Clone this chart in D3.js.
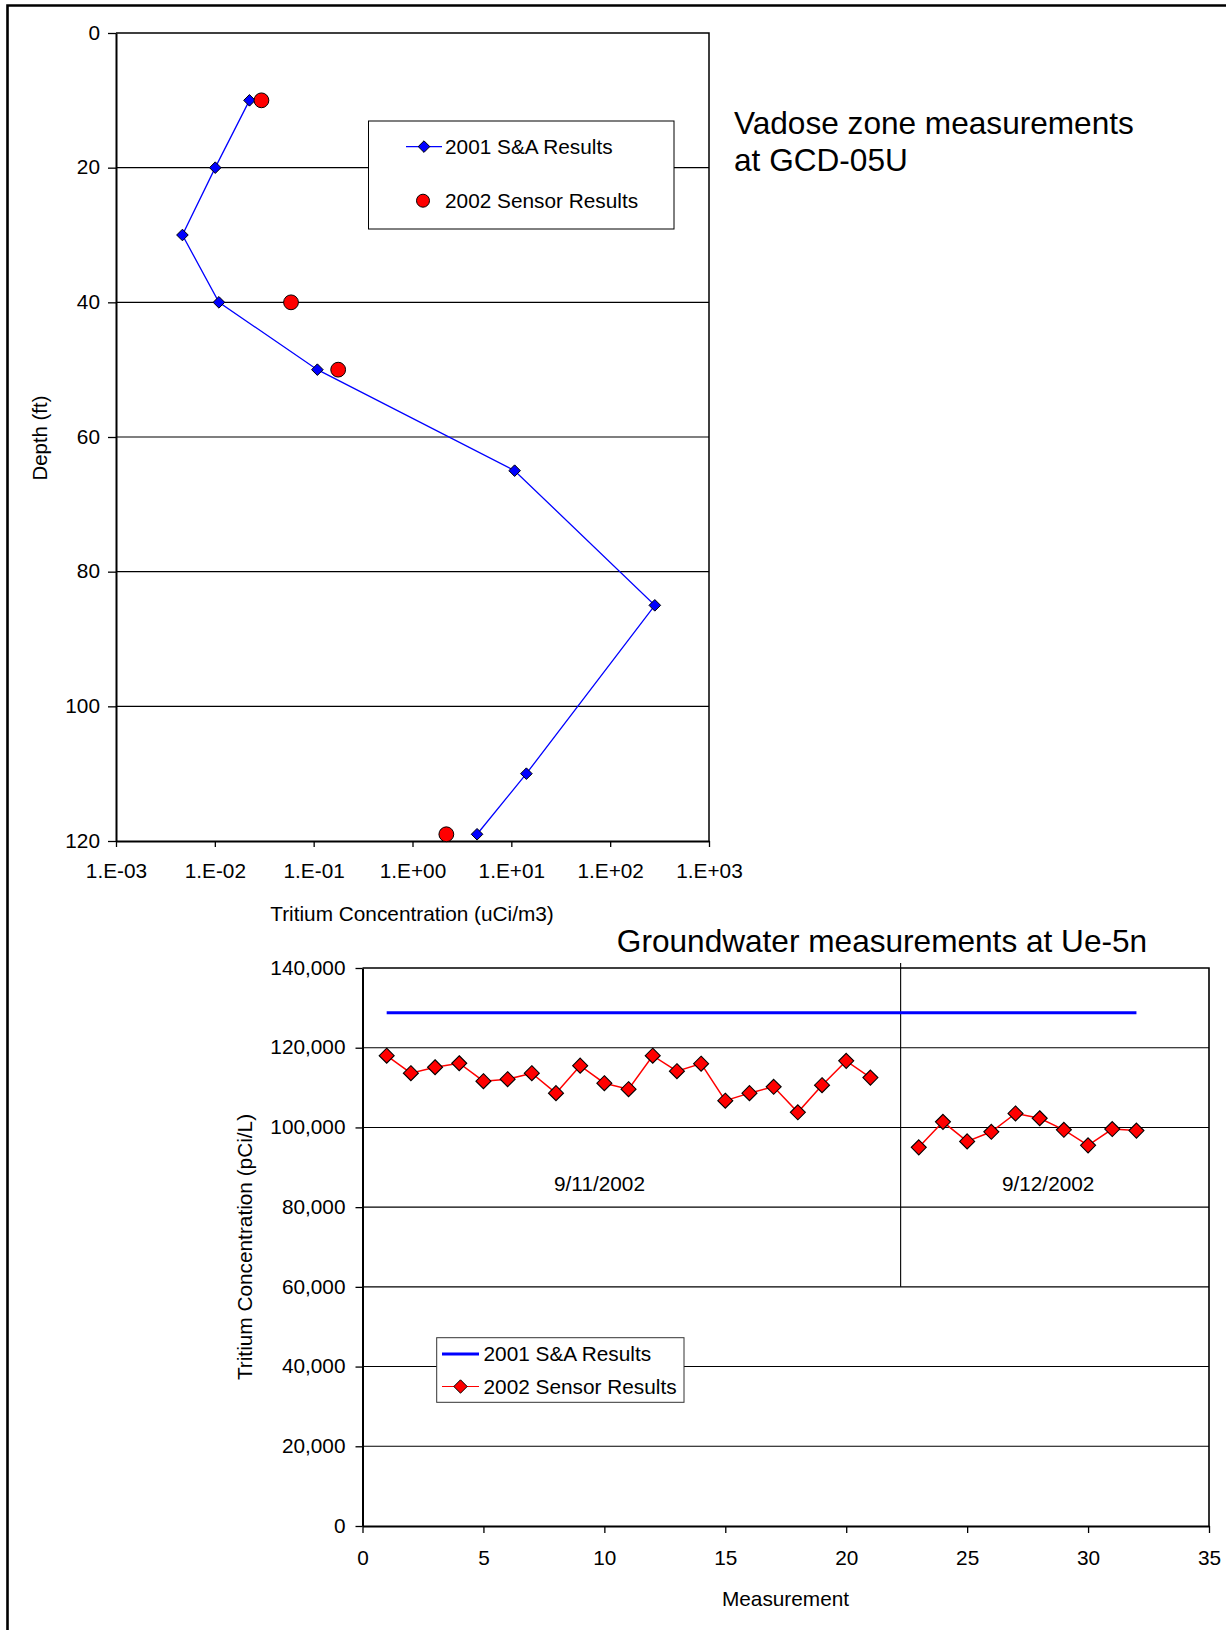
<!DOCTYPE html>
<html>
<head>
<meta charset="utf-8">
<script src="https://cdn.jsdelivr.net/npm/d3@7"></script>
<style>
  html, body { margin: 0; padding: 0; background: #fff; }
  svg { display: block; font-family: "Liberation Sans", Arial, sans-serif; }
  .axis text { font-size: 20.8px; fill: #000; }
  .axis line { stroke: #000; stroke-width: 1.3; }
  .axis path { stroke: #000; stroke-width: 2; }
</style>
</head>
<body>
<div id="chart"></div>
<script>
// --- Vadose zone (top chart) ---
const concTicks = [1e-3, 1e-2, 1e-1, 1, 1e1, 1e2, 1e3];
const depthTicks = [0, 20, 40, 60, 80, 100, 120];
const saDepth = [10, 20, 30, 40, 50, 65, 85, 110, 119];
const saConc = [0.0224, 0.0101, 0.0047, 0.011, 0.109, 10.8, 283, 14.2, 4.5];
const sensorDepth = [10, 40, 50, 119];
const sensorConc = [0.0296, 0.059, 0.177, 2.2];

// --- Groundwater (bottom chart) ---
const measTicks = [0, 5, 10, 15, 20, 25, 30, 35];
const gwTicks = [0, 20000, 40000, 60000, 80000, 100000, 120000, 140000];
const measurement = d3.range(1, 33);
const gwSensor = [118000, 113600, 115100, 116100, 111600, 112100, 113600, 108600,
  115500, 111100, 109600, 118000, 114100, 116000, 106700, 108600, 110200, 103800,
  110600, 116700, 112500, null, 95000, 101400, 96500, 98900, 103500, 102300,
  99400, 95500, 99600, 99200];
const gwSA = [{ m: 1, v: 128800 }, { m: 32, v: 128800 }];
const dateLabels = [{ m: 9.8, v: 86000, text: "9/11/2002" }, { m: 28.35, v: 86000, text: "9/12/2002" }];
const dayBreak = { m: 22.25, from: 60000, to: 141250 };

const width = 1226, height = 1630;
const svg = d3.select("#chart").append("svg").attr("width", width).attr("height", height);

// page frame (top and left edges only)
svg.append("path")
  .attr("d", `M7.5,${height} V5.5 H${width}`)
  .attr("fill", "none").attr("stroke", "#000").attr("stroke-width", 2.6);

const diamond = (r) => `M0,${-r}L${r},0L0,${r}L${-r},0Z`;

// ================= top chart =================
const box1 = { left: 116, right: 709, top: 33, bottom: 841 };
const x1 = d3.scaleLog().domain([1e-3, 1e3]).range([box1.left, box1.right]);
const y1 = d3.scaleLinear().domain([0, 120]).range([box1.top, box1.bottom]);
const g1 = svg.append("g");

g1.append("g").selectAll("line")
  .data(depthTicks.filter((d) => d > 0 && d < 120))
  .join("line")
  .attr("x1", box1.left).attr("x2", box1.right)
  .attr("y1", (d) => y1(d)).attr("y2", (d) => y1(d))
  .attr("stroke", "#000").attr("stroke-width", 1.1);

g1.append("path")
  .attr("d", `M${box1.left},${box1.top} H${box1.right} V${box1.bottom}`)
  .attr("fill", "none").attr("stroke", "#000").attr("stroke-width", 1.5);

const fmtSci = (d) => {
  const e = Math.round(Math.log10(d));
  return "1.E" + (e < 0 ? "-" : "+") + String(Math.abs(e)).padStart(2, "0");
};

g1.append("g").attr("class", "axis")
  .attr("transform", `translate(0,${box1.bottom})`)
  .call(d3.axisBottom(x1).tickValues(concTicks).tickFormat(fmtSci).tickSize(6).tickSizeOuter(0))
  .call((g) => g.selectAll("text").attr("y", 30).attr("dy", "0.35em"));

g1.append("g").attr("class", "axis")
  .attr("transform", `translate(${box1.left},0)`)
  .call(d3.axisLeft(y1).tickValues(depthTicks).tickSize(8).tickPadding(8).tickSizeOuter(0))
  .call((g) => g.selectAll("text").attr("dy", "0.3em"));

svg.append("text")
  .attr("transform", `translate(40,438) rotate(-90)`)
  .attr("text-anchor", "middle").attr("dy", "0.35em")
  .style("font-size", "20.4px")
  .text("Depth (ft)");

svg.append("text")
  .attr("x", 412).attr("y", 914)
  .attr("text-anchor", "middle").attr("dy", "0.35em")
  .style("font-size", "20.8px")
  .text("Tritium Concentration (uCi/m3)");

const saPts = saDepth.map((d, i) => ({ depth: d, conc: saConc[i] }));
const sensorPts = sensorDepth.map((d, i) => ({ depth: d, conc: sensorConc[i] }));

g1.append("path")
  .datum(saPts)
  .attr("fill", "none").attr("stroke", "#0000ff").attr("stroke-width", 1.3)
  .attr("d", d3.line().x((d) => x1(d.conc)).y((d) => y1(d.depth)));

g1.append("g").selectAll("path")
  .data(saPts)
  .join("path")
  .attr("transform", (d) => `translate(${x1(d.conc)},${y1(d.depth)})`)
  .attr("d", diamond(5.8))
  .attr("fill", "#0000ff").attr("stroke", "#000").attr("stroke-width", 1);

g1.append("g").selectAll("circle")
  .data(sensorPts)
  .join("circle")
  .attr("cx", (d) => x1(d.conc)).attr("cy", (d) => y1(d.depth))
  .attr("r", 7.4)
  .attr("fill", "#ff0000").attr("stroke", "#000").attr("stroke-width", 1);

// legend
const lg1 = svg.append("g");
lg1.append("rect")
  .attr("x", 368.5).attr("y", 121).attr("width", 305.5).attr("height", 108)
  .attr("fill", "#fff").attr("stroke", "#000").attr("stroke-width", 1);
lg1.append("line")
  .attr("x1", 406).attr("x2", 442).attr("y1", 146.6).attr("y2", 146.6)
  .attr("stroke", "#0000ff").attr("stroke-width", 1.3);
lg1.append("path")
  .attr("transform", "translate(424,146.6)").attr("d", diamond(5.8))
  .attr("fill", "#0000ff").attr("stroke", "#000");
lg1.append("circle")
  .attr("cx", 423).attr("cy", 200.7).attr("r", 6.5)
  .attr("fill", "#ff0000").attr("stroke", "#000");
lg1.selectAll("text")
  .data(["2001 S&A Results", "2002 Sensor Results"])
  .join("text")
  .attr("x", 445).attr("y", (d, i) => (i ? 200.7 : 146.6))
  .attr("dy", "0.35em").style("font-size", "20.8px")
  .text((d) => d);

svg.append("text")
  .attr("x", 734).attr("y", 134)
  .style("font-size", "31.6px")
  .selectAll("tspan")
  .data(["Vadose zone measurements", "at GCD-05U"])
  .join("tspan")
  .attr("x", 734).attr("dy", (d, i) => (i ? "1.18em" : 0))
  .text((d) => d);

// ================= bottom chart =================
const box2 = { left: 362.5, right: 1209, top: 968, bottom: 1526 };
const x2 = d3.scaleLinear().domain([0, 35]).range([box2.left, box2.right]);
const y2 = d3.scaleLinear().domain([0, 140000]).range([box2.bottom, box2.top]);
const g2 = svg.append("g");

g2.append("g").selectAll("line")
  .data(gwTicks.filter((d) => d > 0 && d < 140000))
  .join("line")
  .attr("x1", box2.left).attr("x2", box2.right)
  .attr("y1", (d) => y2(d)).attr("y2", (d) => y2(d))
  .attr("stroke", "#000").attr("stroke-width", 1.1);

g2.append("path")
  .attr("d", `M${box2.left},${box2.top} H${box2.right} V${box2.bottom}`)
  .attr("fill", "none").attr("stroke", "#000").attr("stroke-width", 1.6);

g2.append("line")
  .attr("x1", x2(dayBreak.m)).attr("x2", x2(dayBreak.m))
  .attr("y1", y2(dayBreak.to)).attr("y2", y2(dayBreak.from))
  .attr("stroke", "#000").attr("stroke-width", 1.1);

g2.append("g").attr("class", "axis")
  .attr("transform", `translate(0,${box2.bottom})`)
  .call(d3.axisBottom(x2).tickValues(measTicks).tickSize(7).tickSizeOuter(0))
  .call((g) => g.selectAll("text").attr("y", 32).attr("dy", "0.35em"));

g2.append("g").attr("class", "axis")
  .attr("transform", `translate(${box2.left},0)`)
  .call(d3.axisLeft(y2).tickValues(gwTicks).tickFormat(d3.format(",")).tickSize(7).tickPadding(10).tickSizeOuter(0))
  .call((g) => g.selectAll("text").attr("dy", "0.3em"));

svg.append("text")
  .attr("transform", `translate(245,1247) rotate(-90)`)
  .attr("text-anchor", "middle").attr("dy", "0.35em")
  .style("font-size", "20.8px")
  .text("Tritium Concentration (pCi/L)");

svg.append("text")
  .attr("x", 785.5).attr("y", 1599)
  .attr("text-anchor", "middle").attr("dy", "0.35em")
  .style("font-size", "20.8px")
  .text("Measurement");

svg.append("text")
  .attr("x", 882).attr("y", 941)
  .attr("text-anchor", "middle").attr("dy", "0.35em")
  .style("font-size", "31.6px")
  .text("Groundwater measurements at Ue-5n");

g2.selectAll(".date")
  .data(dateLabels)
  .join("text")
  .attr("class", "date")
  .attr("x", (d) => x2(d.m)).attr("y", (d) => y2(d.v))
  .attr("text-anchor", "middle").attr("dy", "0.35em")
  .style("font-size", "20.8px")
  .text((d) => d.text);

g2.append("path")
  .datum(gwSA)
  .attr("fill", "none").attr("stroke", "#0000ff").attr("stroke-width", 3)
  .attr("d", d3.line().x((d) => x2(d.m)).y((d) => y2(d.v)));

const gwPts = measurement.map((m, i) => ({ m, v: gwSensor[i] }));

g2.append("path")
  .datum(gwPts)
  .attr("fill", "none").attr("stroke", "#ff0000").attr("stroke-width", 1.5)
  .attr("d", d3.line().defined((d) => d.v != null).x((d) => x2(d.m)).y((d) => y2(d.v)));

g2.append("g").selectAll("path")
  .data(gwPts.filter((d) => d.v != null))
  .join("path")
  .attr("transform", (d) => `translate(${x2(d.m)},${y2(d.v)})`)
  .attr("d", diamond(7.5))
  .attr("fill", "#ff0000").attr("stroke", "#000").attr("stroke-width", 1.1);

// legend
const lg2 = svg.append("g");
lg2.append("rect")
  .attr("x", 436.7).attr("y", 1337.7).attr("width", 247.3).attr("height", 64.6)
  .attr("fill", "#fff").attr("stroke", "#333").attr("stroke-width", 1);
lg2.append("line")
  .attr("x1", 442).attr("x2", 479).attr("y1", 1354).attr("y2", 1354)
  .attr("stroke", "#0000ff").attr("stroke-width", 3);
lg2.append("line")
  .attr("x1", 442).attr("x2", 479).attr("y1", 1386.5).attr("y2", 1386.5)
  .attr("stroke", "#ff0000").attr("stroke-width", 1);
lg2.append("path")
  .attr("transform", "translate(460.5,1386.5)").attr("d", diamond(6.7))
  .attr("fill", "#ff0000").attr("stroke", "#000");
lg2.selectAll("text")
  .data(["2001 S&A Results", "2002 Sensor Results"])
  .join("text")
  .attr("x", 483.5).attr("y", (d, i) => (i ? 1386.5 : 1354))
  .attr("dy", "0.35em").style("font-size", "20.8px")
  .text((d) => d);
</script>
</body>
</html>
